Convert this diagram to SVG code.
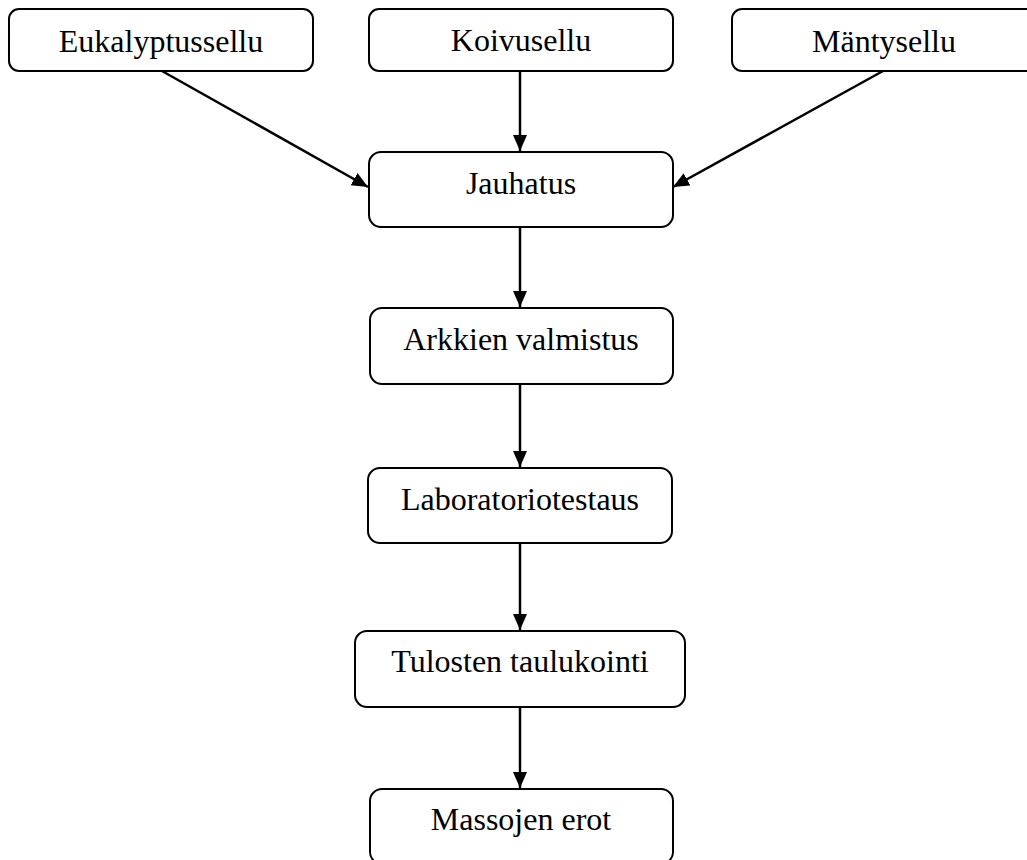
<svg xmlns="http://www.w3.org/2000/svg" width="1027" height="860" viewBox="0 0 1027 860">
<defs>
<style>
.box{fill:#fff;stroke:#000;stroke-width:2}
.lbl{font-family:"Liberation Serif","Times New Roman",serif;font-size:32px;fill:#000;text-anchor:middle}
.edge{stroke:#000;stroke-width:2.5;fill:none;marker-end:url(#ah)}
</style>
<marker id="ah" markerUnits="userSpaceOnUse" markerWidth="17" markerHeight="16" refX="16" refY="8" orient="auto">
<path d="M0,1 L16,8 L0,15 Z" fill="#000"/>
</marker>
</defs>
<rect width="1027" height="860" fill="#fff"/>
<g id="connectors">
<line class="edge" x1="162" y1="71" x2="368" y2="187"/>
<line class="edge" x1="520" y1="71" x2="520" y2="151"/>
<line class="edge" x1="883" y1="71" x2="673" y2="187"/>
<line class="edge" x1="520" y1="227" x2="520" y2="307"/>
<line class="edge" x1="520" y1="384" x2="520" y2="467"/>
<line class="edge" x1="520" y1="543" x2="520" y2="630"/>
<line class="edge" x1="520" y1="707" x2="520" y2="788"/>
</g>
<g id="eukalyptussellu"><rect class="box" x="9" y="9" width="304" height="62" rx="10"/><text class="lbl" x="161" y="52">Eukalyptussellu</text></g>
<g id="koivusellu"><rect class="box" x="369" y="9" width="304" height="62" rx="10"/><text class="lbl" x="521" y="51">Koivusellu</text></g>
<g id="mantysellu"><rect class="box" x="732" y="9" width="304" height="62" rx="10"/><text class="lbl" x="884" y="52">Mäntysellu</text></g>
<g id="jauhatus"><rect class="box" x="369" y="152" width="304" height="75" rx="12"/><text class="lbl" x="521" y="194">Jauhatus</text></g>
<g id="arkkien"><rect class="box" x="370" y="308" width="303" height="76" rx="12"/><text class="lbl" x="521" y="350">Arkkien valmistus</text></g>
<g id="laboratoriotestaus"><rect class="box" x="368" y="468" width="304" height="75" rx="12"/><text class="lbl" x="520" y="510">Laboratoriotestaus</text></g>
<g id="tulosten"><rect class="box" x="355" y="631" width="330" height="76" rx="12"/><text class="lbl" x="520" y="672">Tulosten taulukointi</text></g>
<g id="massojen"><rect class="box" x="370" y="789" width="303" height="75" rx="12"/><text class="lbl" x="521" y="830">Massojen erot</text></g>
</svg>
